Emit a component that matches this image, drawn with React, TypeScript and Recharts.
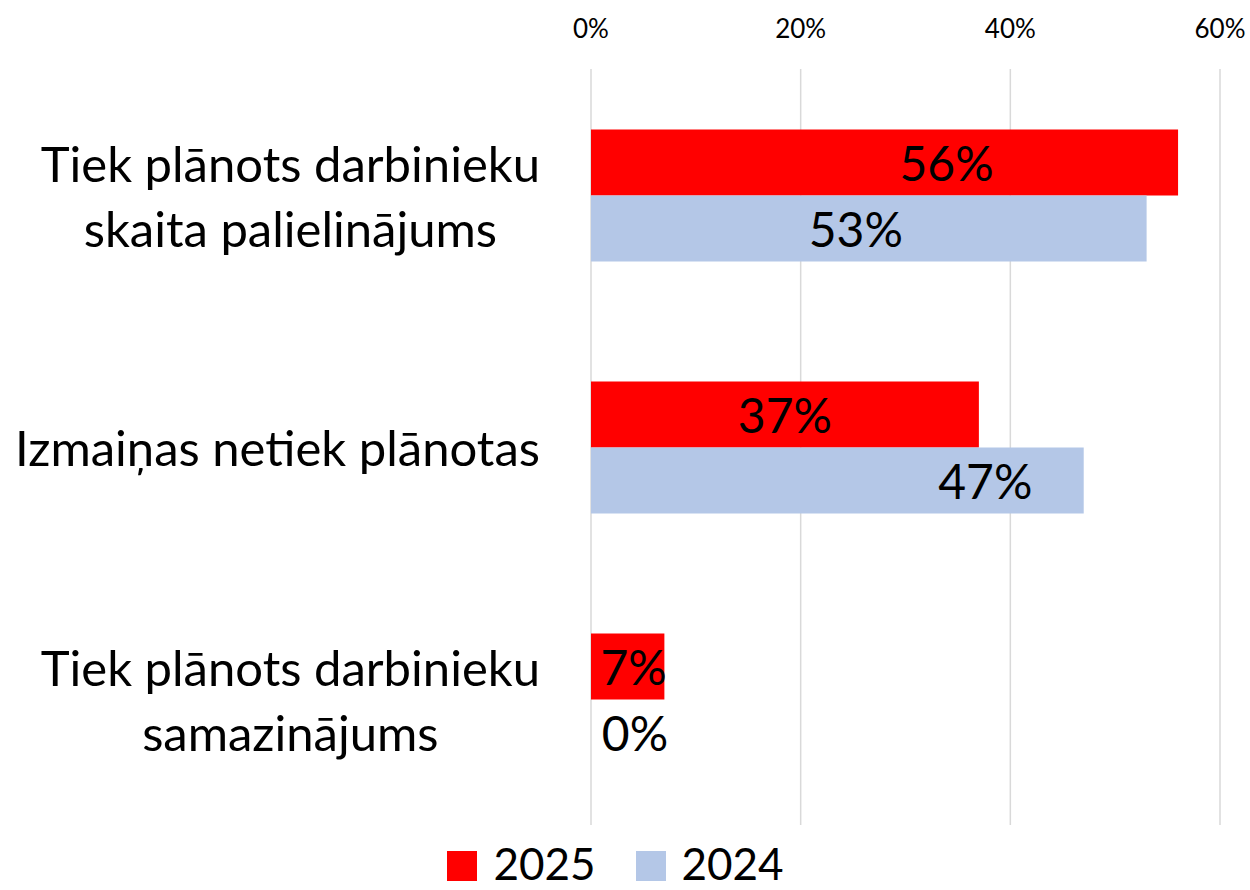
import { BarChart, Bar, XAxis, YAxis, CartesianGrid, Legend, LabelList } from 'recharts';

const categories = [
  ['Tiek plānots darbinieku', 'skaita palielinājums'],
  ['Izmaiņas netiek plānotas'],
  ['Tiek plānots darbinieku', 'samazinājums'],
];
const values2025 = [56, 37, 7];
const values2024 = [53, 47, 0];
const xTicks = [0, 20, 40, 60];

const data = categories.map((lines, i) => ({
  name: lines.join(' '),
  y2025: values2025[i],
  y2024: values2024[i],
}));

const FONT = 'Lato, "Open Sans", sans-serif';
const RED = '#FF0000';
const BLUE = '#B4C7E7';
const CAT_SIZE = 49;

// the labels in the original were nudged by hand, offsets from the bar centre
const shift2025 = [62, 0, 6];
const shift2024 = [-13, 148, 44];

let ctx: CanvasRenderingContext2D | null = null;
const measure = (s: string) => {
  if (!ctx) ctx = document.createElement('canvas').getContext('2d');
  if (!ctx) return s.length * CAT_SIZE * 0.45;
  ctx.font = `${CAT_SIZE}px Lato`;
  return ctx.measureText(s).width;
};

// multi-line label block: right edge on the axis, lines centred inside the block
const CategoryTick = (props: any) => {
  const { x, y, payload } = props;
  const lines = categories[payload.index] || [payload.value];
  const step = 65;
  const blockW = Math.max(...lines.map(measure));
  const cx = x - blockW / 2;
  return (
    <text x={cx} y={y} textAnchor="middle" fill="#000" fontSize={CAT_SIZE} fontFamily={FONT}>
      {lines.map((l: string, i: number) => (
        <tspan key={i} x={cx} y={y + (i - (lines.length - 1) / 2) * step} dominantBaseline="central">
          {l}
        </tspan>
      ))}
    </text>
  );
};

const makeLabel = (shift: number[]) => (props: any) => {
  const { x, y, width, height, value, index } = props;
  return (
    <text
      x={x + width / 2 + shift[index]}
      y={y + height / 2}
      textAnchor="middle"
      dominantBaseline="central"
      fontSize={48}
      fontFamily={FONT}
      fill="#000"
    >
      {value}%
    </text>
  );
};

const LegendBox = () => (
  <div
    style={{
      display: 'flex',
      justifyContent: 'center',
      alignItems: 'center',
      gap: 40,
      fontFamily: FONT,
      fontSize: 44,
      color: '#000',
      marginLeft: 11,
      paddingTop: 26,
      lineHeight: '30px',
    }}
  >
    {[
      { label: '2025', color: RED },
      { label: '2024', color: BLUE },
    ].map((item) => (
      <div key={item.label} style={{ display: 'flex', alignItems: 'center' }}>
        <span style={{ width: 30, height: 30, background: item.color, marginRight: 16 }} />
        <span style={{ position: 'relative', top: -3 }}>{item.label}</span>
      </div>
    ))}
  </div>
);

export default function App() {
  return (
    <div style={{ position: 'absolute', left: 0, top: 0, fontFamily: FONT }}>
      <BarChart
        width={1250}
        height={890}
        data={data}
        layout="vertical"
        margin={{ top: 0, right: 30, bottom: 0, left: 0 }}
        barCategoryGap="24%"
        barGap={0}
      >
        <CartesianGrid horizontal={false} stroke="#d9d9d9" strokeWidth={1.5} />
        <XAxis
          type="number"
          orientation="top"
          domain={[0, 60]}
          ticks={xTicks}
          tickFormatter={(v) => `${v}%`}
          axisLine={false}
          tickLine={false}
          tickSize={0}
          tickMargin={31}
          height={69}
          tick={{ fill: '#000', fontSize: 26, fontFamily: FONT }}
          interval={0}
        />
        <YAxis
          type="category"
          dataKey="name"
          width={591}
          axisLine={false}
          tickLine={false}
          tickSize={0}
          tickMargin={51}
          tick={<CategoryTick />}
          interval={0}
        />
        <Legend verticalAlign="bottom" height={65} content={<LegendBox />} />
        <Bar dataKey="y2025" name="2025" fill={RED} isAnimationActive={false}>
          <LabelList dataKey="y2025" content={makeLabel(shift2025)} />
        </Bar>
        <Bar
          dataKey="y2024"
          name="2024"
          fill={BLUE}
          isAnimationActive={false}
          minPointSize={(v: number) => (v === 0 ? 0.01 : 0)}
        >
          <LabelList dataKey="y2024" content={makeLabel(shift2024)} />
        </Bar>
      </BarChart>
    </div>
  );
}
